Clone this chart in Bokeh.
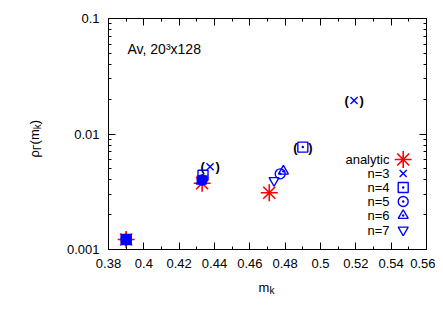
import numpy as np
from bokeh.plotting import figure
from bokeh.models import LinearAxis, LogAxis, FixedTicker, Label, Range1d
from bokeh.embed import file_html
from bokeh.resources import INLINE
from bokeh.core.properties import value

# ---------------- data ----------------
x_tick_labels = ["0.38", "0.4", "0.42", "0.44", "0.46", "0.48", "0.5", "0.52", "0.54", "0.56"]
x_minor_ticks = [0.39, 0.41, 0.43, 0.45, 0.47, 0.49, 0.51, 0.53, 0.55]
y_tick_labels = ["0.001", "0.01", "0.1"]

analytic_m = [0.390, 0.433, 0.471]
analytic_rho = [0.00122, 0.00375, 0.0031]

n3_m = [0.390, 0.4375, 0.519]
n3_rho = [0.00122, 0.0052, 0.0195]
n3_paren = [False, True, True]

n4_m = [0.390, 0.4335, 0.490]
n4_rho = [0.00122, 0.0044, 0.0077]
n4_paren = [False, False, True]

n5_m = [0.390, 0.433, 0.4772]
n5_rho = [0.00122, 0.0040, 0.00452]

n6_m = [0.390, 0.4325, 0.479]
n6_rho = [0.00122, 0.0039, 0.00476]

n7_m = [0.390, 0.433, 0.4737]
n7_rho = [0.00122, 0.0041, 0.00396]

legend_labels = ["analytic", "n=3", "n=4", "n=5", "n=6", "n=7"]
title_text = "Av, 20\u00b3x128"

# ---------------- layout ----------------
FONT = "Liberation Sans"
RED = "#ff0000"
BLUE = "#0000ff"
W, H = 435, 303
L, R, T, B = 108, 9, 18, 54
FW, FH = W - L - R, H - T - B
X0, X1 = 0.38, 0.56
Y0, Y1 = 0.001, 0.1

def dx(px):
    return X0 + (px - L) / FW * (X1 - X0)

def dy(py):
    return 10 ** (np.log10(Y1) - (py - T) / FH * (np.log10(Y1) - np.log10(Y0)))

p = figure(width=W, height=H, x_range=Range1d(X0, X1), y_range=Range1d(Y0, Y1),
           y_axis_type="log", output_backend="svg", toolbar_location=None,
           min_border_left=L, min_border_right=R, min_border_top=T, min_border_bottom=B)
p.xgrid.visible = False
p.ygrid.visible = False
p.outline_line_color = "black"
p.outline_line_width = 1
p.background_fill_color = "white"
p.border_fill_color = "white"

x_ticks = [float(s) for s in x_tick_labels]
y_ticks = [float(s) for s in y_tick_labels]
y_minor = [k * t for t in y_ticks[:-1] for k in range(2, 10)]
xt = FixedTicker(ticks=x_ticks, minor_ticks=x_minor_ticks)
yt = FixedTicker(ticks=y_ticks, minor_ticks=y_minor)

def style_axis(ax, labels_visible=True):
    ax.axis_line_color = "black"
    ax.major_tick_line_color = "black"
    ax.minor_tick_line_color = "black"
    ax.major_tick_in = 7
    ax.major_tick_out = 0
    ax.minor_tick_in = 3
    ax.minor_tick_out = 0
    ax.major_label_text_font = FONT
    ax.major_label_text_font_size = "13px"
    ax.major_label_text_color = "black"
    if not labels_visible:
        ax.major_label_text_font_size = "0px"
        ax.major_label_standoff = 0

p.xaxis.ticker = xt
p.yaxis.ticker = yt
p.xaxis.major_label_overrides = {t: s for t, s in zip(x_ticks, x_tick_labels)}
p.yaxis.major_label_overrides = {t: s for t, s in zip(y_ticks, y_tick_labels)}
style_axis(p.xaxis[0])
style_axis(p.yaxis[0])
p.xaxis.major_label_standoff = 9
p.yaxis.major_label_standoff = 9

top_ax = LinearAxis(ticker=xt, major_label_overrides={t: "" for t in x_ticks})
style_axis(top_ax, labels_visible=False)
p.add_layout(top_ax, "above")
right_ax = LogAxis(ticker=yt, major_label_overrides={t: "" for t in y_ticks})
style_axis(right_ax, labels_visible=False)
p.add_layout(right_ax, "right")

# ---------------- data marks ----------------
p.scatter(analytic_m, analytic_rho, marker="asterisk", size=17, line_color=RED, line_width=1.6)

series = [
    (n3_m, n3_rho, "x", None),
    (n4_m, n4_rho, "square_dot", 0.40),
    (n5_m, n5_rho, "circle_dot", 0.44),
    (n6_m, n6_rho, "triangle_dot", None),
    (n7_m, n7_rho, "inverted_triangle", None),
]
for xs, ys, mk, fill_below in series:
    fa = [1.0 if (fill_below is not None and x < fill_below) else 0.0 for x in xs]
    p.scatter(xs, ys, marker=mk, size=10, line_color=BLUE, line_width=1.4,
              fill_color=BLUE, fill_alpha=fa)

# bracketed points
pm = [x for x, f in zip(n3_m, n3_paren) if f] + [x for x, f in zip(n4_m, n4_paren) if f]
pr = [y for y, f in zip(n3_rho, n3_paren) if f] + [y for y, f in zip(n4_rho, n4_paren) if f]
for ch, off in (("(", -7.5), (")", 7.5)):
    p.text(pm, pr, text=[ch] * len(pm), x_offset=off, text_align="center",
           text_baseline="middle", text_font=value(FONT), text_font_style="bold",
           text_font_size="13px", text_color="black")

# ---------------- legend (text left, key right) ----------------
leg_rows = [159, 173, 187, 201, 215, 229.5]
leg_key_x = 402.7
leg_text_x = 389
leg_markers = [("asterisk", 17, RED, 1.6), ("x", 10, BLUE, 1.4), ("square_dot", 10, BLUE, 1.4),
               ("circle_dot", 10, BLUE, 1.4), ("triangle_dot", 10, BLUE, 1.4),
               ("inverted_triangle", 10, BLUE, 1.4)]
for lab, row, (mk, sz, col, lw) in zip(legend_labels, leg_rows, leg_markers):
    p.add_layout(Label(x=dx(leg_text_x), y=dy(row), text=lab, text_align="right",
                       text_baseline="middle", text_font=FONT, text_font_size="13px",
                       text_color="black"))
    p.scatter([dx(leg_key_x)], [dy(row)], marker=mk, size=sz, line_color=col,
              line_width=lw, fill_alpha=0)

# ---------------- title inside frame ----------------
p.add_layout(Label(x=dx(127), y=dy(48), text=title_text, text_align="left",
                   text_baseline="alphabetic", text_font=FONT, text_font_size="14px",
                   text_color="black"))

# ---------------- axis labels (composite with subscripts) ----------------
# placed in the side panels so they are not clipped to the frame
def add_side_lbl(side, px, py, txt, size, angle=0.0):
    p.add_layout(Label(x=px, y=py, x_units="canvas", y_units="canvas", text=txt,
                       text_align="left", text_baseline="alphabetic", text_font=FONT,
                       text_font_size=f"{size}px", text_color="black", angle=angle), side)

# y label: rho_Gamma(m_k), rotated, reading upward
yb = 34
add_side_lbl("left", yb, 157, "\u03c1", 13, np.pi / 2)
add_side_lbl("left", yb + 3, 149.5, "\u0393", 10, np.pi / 2)
add_side_lbl("left", yb, 143.9, "(m", 13, np.pi / 2)
add_side_lbl("above", yb + 3, 128.7, "k", 10, np.pi / 2)
add_side_lbl("left", yb, 123.7, ")", 13, np.pi / 2)

# x label: m_k
add_side_lbl("below", 258, 286.5, "m", 13)
add_side_lbl("below", 269, 290, "k", 10)

open("out.html", "w").write(file_html(p, INLINE))
